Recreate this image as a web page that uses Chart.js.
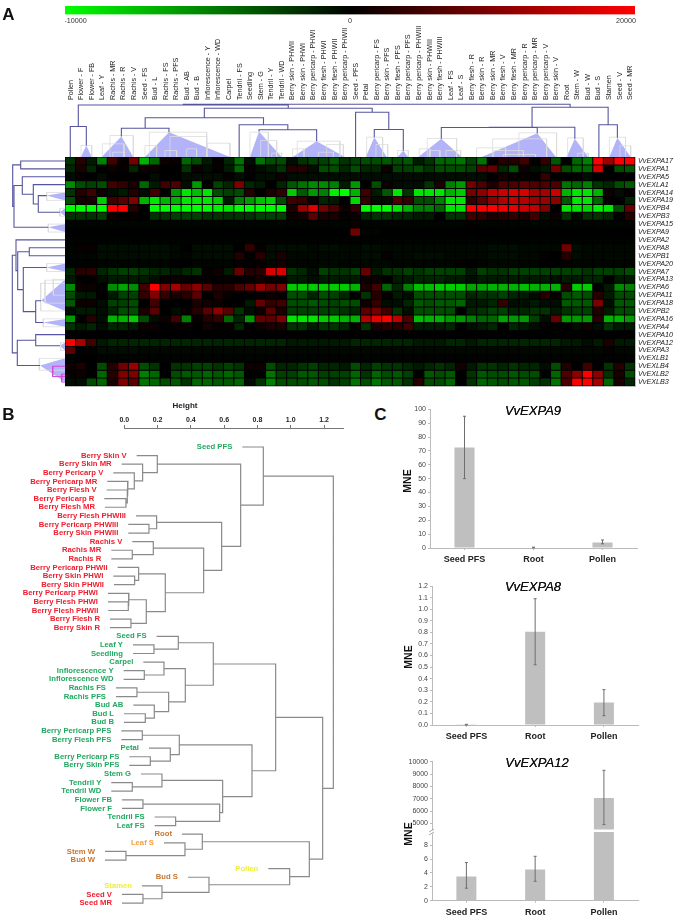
<!DOCTYPE html>
<html>
<head>
<meta charset="utf-8">
<title>VvEXPA expression</title>
<script src="https://cdn.jsdelivr.net/npm/chart.js@4"></script>
<style>
  html, body { margin: 0; padding: 0; background: #fff; }
  #page { position: relative; width: 679px; height: 916px; overflow: hidden; font-family: "Liberation Sans", Arial, sans-serif; }
  #page canvas { position: absolute; }
  .txt { position: absolute; white-space: nowrap; transform: translate(-50%, -50%); color: #111; }
  .letter { font-size: 17px; font-weight: bold; }
  .geneTitle { font-size: 13px; font-style: italic; text-shadow: 0 0 0.4px #111; }
  .mne { font-size: 10.5px; font-weight: bold; transform: translate(-50%, -50%) rotate(-90deg); }
  .height { font-size: 8px; font-weight: bold; color: #222; }
</style>
</head>
<body>
<div id="page"></div>
<script>
// ---- panel A data ----
const tissues = [
  "Pollen", "Flower - F", "Flower - FB", "Leaf - Y", "Rachis - MR", "Rachis - R", "Rachis - V", "Seed - FS", "Bud - L",
  "Rachis - FS", "Rachis - PFS", "Bud - AB", "Bud - B", "Inflorescence - Y", "Inflorescence - WD", "Carpel", "Tendril - FS",
  "Seedling", "Stem - G", "Tendril - Y", "Tendril - WD", "Berry skin - PHWII", "Berry skin - PHWI", "Berry pericarp - PHWI",
  "Berry flesh - PHWI", "Berry flesh - PHWII", "Berry pericarp - PHWII", "Seed - PFS", "Petal", "Berry pericarp - FS",
  "Berry skin - PFS", "Berry flesh - PFS", "Berry pericarp - PFS", "Berry pericarp - PHWIII", "Berry skin - PHWIII",
  "Berry flesh - PHWIII", "Leaf - FS", "Leaf - S", "Berry flesh - R", "Berry skin - R", "Berry skin - MR", "Berry flesh - V",
  "Berry flesh - MR", "Berry pericarp - R", "Berry pericarp - MR", "Berry pericarp - V", "Berry skin - V", "Root", "Stem - W",
  "Bud - W", "Bud - S", "Stamen", "Seed - V", "Seed - MR",
];

const genes = [
  "VvEXPA17", "VvEXPA1", "VvEXPA5", "VvEXLA1", "VvEXPA14", "VvEXPA19", "VvEXPB4", "VvEXPB3", "VvEXPA15", "VvEXPA9",
  "VvEXPA2", "VvEXPA8", "VvEXPB1", "VvEXPA20", "VvEXPA7", "VvEXPA13", "VvEXPA6", "VvEXPA11", "VvEXPA18", "VvEXPB2",
  "VvEXPA16", "VvEXPA4", "VvEXPA10", "VvEXPA12", "VvEXPA3", "VvEXLB1", "VvEXLB4", "VvEXLB2", "VvEXLB3",
];

// expression per gene per tissue, in thousands (-10 = full green, 20 = full red)
const heatValues = [
  [-2,3,-1,-5,5,.5,9,-7,-4,1,.5,-4,-3,-1,.5,-1.5,-4.5,-.5,-4.5,-3,-3,-.5,-2,-2.5,-2.5,-3.5,
   -2,-2.5,-3,-3,-3.5,-3,-3.5,-1,-2,-4,-4,-4.5,-2.5,-4.5,0,3,3,5,0,4,-3.5,0,-4,-5,20,12,20,20],
  [-1.5,2,-1.5,0,1,.5,-1.5,1,1,0,0,-2,1,-.5,.5,-1,-4,.5,-.5,-1,-2,3,3,-.5,-3,-3,
   -1.5,-3,-1.5,-1.5,1,-2.5,-2.5,-3,-2,-3,-3,-3,-2.5,7,8,-1.5,-3,1,-.5,-1,9,-3,-4,-4,17,0,-3,-3.5],
  [-.5,.5,0,-.5,0,0,0,0,-.5,0,0,-.5,-.5,-.5,-.5,.5,-.5,0,-.5,-.5,1,-.5,-.5,-.5,-.5,-.5,
   -.5,-.5,-.5,-.5,-.5,-.5,-.5,-.5,-.5,-.5,-.5,-.5,-.5,-.5,0,1.5,.5,.5,0,4,0,0,0,-.5,0,0,0,0],
  [-5.5,-3,-2.5,-3,5,4,2,-4,-1,5,6,-.5,-6,0,-2.5,-1.5,10,-1.5,-1,0,-1.5,-3.5,-4.5,-5.5,-5.5,-5,
   -1,-6,0,-3,1,-.5,-.5,-.5,-2,2,-5,-6,9,6,2,6,6,7,6,6,6,-4.5,-4,-5,-2,-1.5,-3,-3.5],
  [-2,3,5,1,-.5,-1,3,-.5,5,0,-6,-9,-7.5,-9,-3,-2.5,-3,3,0,2,4,-8,-3.5,-6,-5,-9.5,
   -10,-7,5,-1,-3.5,-9,-2,-9,-9,-9,-7,-8,9,11,15,16,17,17,13,13,16,-7,-9,-9,-7,1,-.5,.5],
  [-3,1.5,2,-8,5,7,10,-7,-9,-7,-7,-9,-9,-9,-8,-1,-5,-6,-7.5,-8,-3,5,4,1,-1.5,-1,
   0,-8.5,4,-.5,-.5,6,4,-3,-3,-5,-9,-9,4,7,11,14,15,14,12,12,11,-3.5,-9,-9,-4,0,0,-1.5],
  [-10,-10,-10,-10,20,20,3,0,-10,-10,-10,-10,-10,-10,-9.5,-9,-10,-10,-10,-10,-10,2,12,17,9,6,
   1,4,-10,-10,-10,-9,-7,-5,-5,-4,-9,-9,20,20,20,19,18,16,15,10,0,-9,-9,-8.5,-9.5,-9,-3,8],
  [-2,-2,-2,-2.5,1,.5,.5,0,-2,-2,-2.5,-2.5,-2.5,-2,-2,-2,-2,-2,-2.5,-2.5,-2.5,1,1.5,7,2,2,
   .5,1,-1.5,-2,-2,-1.5,-1.5,-1,-1,0,-2,-2,5,4,2,3,4,2,5,-.5,1,-2,-.5,-2,-2,-1.5,0,3],
  [-.2,-.2,-.2,-.2,-.2,-.2,-.2,-.2,-.2,-.2,-.2,-.2,-.2,-.2,-.2,-.2,-.2,-.2,-.2,-.2,-.2,-.2,-.2,-.2,-.2,-.2,
   -.2,1,-.2,-.2,-.2,-.2,-.2,-.2,-.2,-.2,-.2,-.2,.5,-.2,-.2,-.2,-.2,-.2,-.2,-.2,-.2,-.2,-.2,-.2,-.2,-.2,-.2,-.2],
  [0,0,0,0,0,0,0,0,0,0,0,0,0,0,0,0,0,0,0,0,0,0,0,0,0,0,
   0,9,-.2,-.2,0,0,0,0,0,0,0,0,0,0,0,0,0,0,0,0,0,0,0,0,0,0,0,0],
  [-.1,-.1,-.1,-.1,-.1,-.1,-.1,-.1,-.1,-.1,-.1,-.1,-.1,-.1,-.1,-.1,-.1,-.1,-.1,-.1,-.1,-.1,-.1,-.1,-.1,-.1,
   -.1,-.1,-.1,-.1,-.1,-.1,-.1,-.1,-.1,-.1,-.1,-.1,-.1,-.1,-.1,-.1,-.1,-.1,-.1,-.1,-.1,-.1,-.1,-.1,-.1,-.1,-.1,-.1],
  [-.2,.5,.5,-.5,-.5,-.5,-.5,-.5,-.5,-.5,-.3,0,-.5,-.5,-.5,-.5,0,4,.5,-.5,-.5,-.5,-.5,-.3,-.5,-.5,
   -.3,-.3,-.5,-.5,-.3,-.3,-.3,-.3,-.3,-.3,-.3,-.3,-.3,-.3,-.5,-.5,-.5,-.3,-.3,-.3,-.3,9,-.5,-.3,-.3,-.3,-.3,-.3],
  [-.2,-.2,-.2,-.5,-.5,-.5,-.5,-.5,-.5,-.5,-.3,-.2,-.5,-.5,-.5,-.5,2.5,0,3,-.5,2,-.3,-.3,-.3,-.3,-.3,
   -.3,-.3,-.5,-.5,.5,-.3,-.3,-.5,-.5,-.5,-.3,-.3,-.3,-.3,-.5,-.5,-.5,-.3,-.3,.5,0,3,-.5,-.3,-.3,-.3,-.3,-.3],
  [-.1,-.1,-.1,-.2,-.2,-.2,-.2,-.2,-.2,-.2,0,0,-.2,-.2,-.2,-.2,.5,.2,.5,-.3,1.5,-.2,-.2,-.2,-.3,-.3,
   -.2,-.2,-.3,-.3,-.3,-.2,-.2,-.2,-.2,-.2,-.2,.5,0,-.2,-.3,-.3,-.3,-.2,-.2,0,0,.5,-.2,-.2,-.2,-.2,-.2,-.2],
  [-1.5,3,3.5,-1.5,-2,-2.5,-2.5,-2,-1.5,-1.5,-1,-1.5,-2,.5,1,-1,8,3,3,17,17,-2,-1.5,-.5,-2.5,-2,
   -2,-2.5,8,-1,-2,-2,-2.5,-2,-2.5,-2.5,-2.5,-2.5,-1,-2.5,-2,-2,-2.5,-2.5,-2.5,-2.5,-2.5,-2.5,-2.5,-2,-2.5,-2.5,-2.5,-3],
  [-1,0,0,-.5,-1,-1,-1,-1,-.5,.5,1,.5,.5,.5,0,.5,0,.5,1.5,.5,.5,-1,-1,-.5,-1,-1,
   -1,-1,1,1,0,-1,-1,-1.5,-1.5,-1.5,-1,-1,-.5,-1,-1,-1,-1,-1,-1,-1,-.5,-1,-1,-1.5,-1.5,0,-1,-1],
  [-5.5,1,1,0,-5.5,-6.5,-5.5,5,20,10,13,8,11,7,3,3,6,8,12,9,10,-8,-8,-8,-8,-8,
   -8,-7,2,5,-4,-1.5,-5,-7.5,-7.5,-8,-8,-8,-6.5,-6.5,-7,-7,-7,-7.5,-7,-7,-7,3,-8,-8,0,-1,-5.5,-5],
  [-3,-1,-1,0,-1,-2.5,-2.5,4,10,4,2,3,7,0,2,.5,0,0,.5,1,.5,-3,-3,-1.5,-3,-2.5,
   -1.5,0,-2,3,.5,-1,-.5,-3,-3,-3,-3,-3,-1.5,-2,-2,-2.5,-1.5,-1,-.5,3,.5,-3,-3.5,-3,3,-1,-3,-3],
  [-3.5,1,1,-.5,-2.5,-2.5,-3,0,5,0,0,0,2,1.5,1,0,0,-1,8,4,5,-3,-3,-3.5,-3,-2.5,
   -3,-3,1,4,-.5,-.5,-1.5,-3.5,-3,-3.5,-3.5,-4,-1,-1,-1.5,4,-.5,-.5,-1,-.5,-.5,-3.5,-3.5,-3.5,10,-.5,-3.5,-3.5],
  [-.5,-1,-1,-.5,-1.5,-3,-3,2,7,0,-.5,.5,3,7,11,7,-2,-.5,1,7,2,-2.5,-2.5,-2.5,-2.5,-2.5,
   -2,-1.5,7,9,5,-2,-.5,-3,-3,-3,-3,0,-1.5,-2,-2.5,-2.5,-1.5,-1.5,-2,-2,-1,-2,-2.5,-2.5,2.5,-1,-3,-3],
  [-6,0,3,-.5,-7,-7,-8,-3,-.5,1,5,-5,.5,3,4,-4,-1.5,-6,8,7,10,-9,-9,-9,-8,-8,
   -7,-7,14,18,20,15,6,-7.5,-7,-7,-6,-6,-5,-4,-4,-6.5,-6,-6,-2.5,-.5,8,-6,-6,-6,3,-7,-7,-6],
  [-2,-1,-1.5,-.5,-1.5,-1.5,-1,1,1,0,.5,.5,0,1.5,.5,.5,-1.5,0,1,2,2,-2,-2,-1,-2,-2,
   -1.5,.5,-2,2,3,3,5,-1,-1,-1,-1.5,0,-.5,-1,-1.5,0,-1.5,-1,-.5,.5,0,0,-.5,1.5,-.5,-2,-1,-1],
  [0,0,0,0,0,0,0,0,0,0,0,0,0,0,0,0,0,0,0,0,0,0,0,0,0,0,
   0,0,0,0,0,0,0,0,0,0,0,0,0,0,0,0,0,0,0,0,0,0,0,0,0,0,0,0],
  [20,13,5,-1,-1.5,-1.5,-1.5,-1.5,-1.5,-1.5,-1.5,-1.5,-1.5,-1.5,-1.5,-1.5,-1.5,-1.5,-1.5,-1.5,-1.5,-1,-1,-1,-1,-1,
   -1,-1.5,-1.5,-1.5,-1.5,-1.5,-1.5,-1,-1,-1,-1.5,-1.5,-1,-1.5,-1.5,-1.5,-1.5,-1.5,-1.5,-1.5,-1.5,-1,-1,-.5,-1,2,-1,-1],
  [7,-.1,-.1,-.5,-.5,-.5,-.5,-.3,-.3,-.3,-.3,-.3,-.3,-.3,-.3,-.3,-.3,-.3,-.3,-.3,-.3,-.3,-.3,-.3,-.3,-.3,
   -.3,-.3,-.3,-.3,-.3,-.3,-.3,-.3,-.3,-.3,-.3,-.3,-.3,-.3,-.3,-.3,-.3,-.3,-.3,-.3,-.3,-.3,-.3,-.3,-.3,.5,-.3,-.3],
  [-.1,0,0,-.1,-.1,-.1,-.1,-.1,-.1,-.1,-.1,-.1,-.1,-.1,-.1,-.1,-.1,-.1,-.1,-.1,-.1,-.1,-.1,-.1,-.1,-.1,
   -.1,-.1,-.1,-.1,-.1,-.1,-.1,-.1,-.1,-.1,-.1,-.1,-.1,-.1,-.1,-.1,-.1,-.1,-.1,-.1,-.1,-.1,-.1,-.1,-.1,-.1,-.1,-.1],
  [1,2,0,-3,3,9,12,-3,-2,0,-2,-2,-2.5,-2.5,-2,-2.5,-2,1,1,-3,-1.5,-1.5,-2,-2.5,-1.5,-1.5,
   -1,-3,-1.5,-2.5,-2,-2,-1.5,-1,-1.5,-2,-1.5,1.5,-1,-2,-2,-1.5,-2,-1.5,-1.5,-.5,-3,2.5,0,5,0,-2,3,-2],
  [.5,1,0,-4,3,10,10,-5,-4,0,-3,-3.5,-3.5,-4,-3.5,-4,-3.5,0,0,-4.5,-2.5,-2.5,-3.5,-3.5,-2.5,-2.5,
   -2.5,-4,-2,-4,-3,-3.5,-2.5,0,-3.5,-3,-3.5,0,-2,-3.5,-3,-3,-3.5,-3,-3,0,-4,6,11,20,11,-2,2,-3],
  [-.5,-.5,-3,-4,2,10,7,-4.5,-4,-3,-3.5,-2,-4,-4,-3.5,-3.5,-4,-.5,-2,-5,-3,-3,-3,-3.5,-3,-2,
   -2.5,-4.5,-3,-4.5,-3.5,-3.5,-2,3,-3,-3,-4,0,-2,-4,-3.5,-3,-3.5,-3.5,-2.5,-2,-4.5,6,20,20,13,-4,2,-1.5],
];

// collapsed clusters of the tissue tree: [position, height, base from, base to]
const topClusters = [
  [0.5,0,0.5,0.5], [2.02,11.5,1.5,2.53], [5.34,20.5,3.47,6.47], [9.85,24.8,7.58,15.63], [16.5,0,16.5,16.5],
  [18.38,25.5,17.52,20.52], [23.84,15.8,21.57,26.52], [27.53,0,27.53,27.53], [29.3,19.8,28.5,30.47], [32.05,6.5,31.5,32.5],
  [35.65,18.2,33.47,37.58], [44.74,23.8,39.47,46.51], [48.3,18.2,47.52,49.57], [50.58,0,50.58,50.58], [52.33,19.2,51.57,53.59],
];
// merges as in hclust: negative = cluster number, positive = earlier merge number, then height
const topMerges = [
  [-1,-2,30.5], [-3,-4,28.8], [-6,-7,27.2], [-5,3,32.2], [2,4,39.2], [-9,-10,27.5], [-8,6,44.8], [5,7,48.8], [1,8,52],
  [-11,-12,29.5], [10,-13,29.8], [-14,-15,32.2], [11,12,49.8], [9,13,52.8],
];
// pale sub-branches inside the collapsed clusters: [from, to, height]
const topSubBranches = [
  [1.52,2.53,11.5], [4.26,6.47,21.5], [3.54,5.59,13.2], [4.52,5.59,4.8], [7.99,13.42,24.8], [7.58,8.68,11.5], [9.95,13.42,20.5],
  [9.47,10.58,6.5], [11.53,12.47,8.2], [13.48,15.63,13.8], [17.52,19.26,24.8], [18.53,20.05,16.5], [19.58,20.52,3.8],
  [21.57,22.64,8.2], [22,26.05,15.8], [24,25.42,4.8], [24.79,26.37,12.5], [28.58,30.09,19.8], [29.46,30.57,12.5], [31.51,32.52,6.5],
  [33.56,34.58,8.2], [34.32,37.1,18.5], [34.51,35.52,6.5], [36.09,37.48,6.5], [39,41.74,9.2], [40.51,45.63,18.2], [40.57,43.42,6.5],
  [41.52,44.58,2.5], [43,46.57,24.2], [47.62,49.1,19.2], [48.57,49.57,3.8], [51.57,53.1,19.8], [52.57,53.59,11.2],
];

// same layout for the gene tree, positions are row numbers
const leftClusters = [
  [0.5,0,0.5,0.5], [1.5,0,1.5,1.5], [2.5,0,2.5,2.5], [3.5,0,3.5,3.5], [4.89,18.3,4.5,5.5], [7,5,6.5,7.5], [8.9,16.7,8.5,9.5],
  [10.5,0,10.5,10.5], [11.5,0,11.5,11.5], [12.5,0,12.5,12.5], [14,18.3,13.5,14.5], [18.2,24,15.5,19.5], [20.96,21.7,20.5,21.5],
  [22.5,0,22.5,22.5], [23.9,5,23.5,24.5], [26.4,25,25.5,28.5],
];
const leftMerges = [
  [-1,-2,44.3], [-5,-6,26.7], [-4,2,31.7], [-3,3,42.7], [4,-7,51], [1,5,52.3],
  [-9,-10,35.7], [-12,-13,29.3], [-11,8,41.7], [7,9,47.3], [-8,10,49], [-14,-15,29.3], [12,-16,47.7], [11,13,52.7],
];
const leftSubBranches = [
  [4.5,5.5,18.3], [6.5,7.5,5], [8.5,9.5,16.7], [13.5,14.5,18.3], [16,19.5,24.3], [15.6,18.5,20], [15.5,17.5,11.7],
  [20.5,21.5,21.7], [23.5,24.5,4.3], [25.5,27,25.7],
];
const leftPinkBranches = [[26.5,27.8,12.3], [27.5,28.5,3.3]];

// ---- panel B data ----
const leafNames = [
  "Seed PFS", "Berry Skin V", "Berry Skin MR", "Berry Pericarp V", "Berry Pericarp MR", "Berry Flesh V", "Berry Pericarp R",
  "Berry Flesh MR", "Berry Flesh PHWIII", "Berry Pericarp PHWIII", "Berry Skin PHWIII", "Rachis V", "Rachis MR", "Rachis R",
  "Berry Pericarp PHWII", "Berry Skin PHWI", "Berry Skin PHWII", "Berry Pericarp PHWI", "Berry Flesh PHWI", "Berry Flesh PHWII",
  "Berry Flesh R", "Berry Skin R", "Seed FS", "Leaf Y", "Seedling", "Carpel", "Inflorescence Y", "Inflorescence WD", "Rachis FS",
  "Rachis PFS", "Bud AB", "Bud L", "Bud B", "Berry Pericarp PFS", "Berry Flesh PFS", "Petal", "Berry Pericarp FS", "Berry Skin PFS",
  "Stem G", "Tendril Y", "Tendril WD", "Flower FB", "Flower F", "Tendril FS", "Leaf FS", "Root", "Leaf S", "Stem W", "Bud W",
  "Pollen", "Bud S", "Stamen", "Seed V", "Seed MR",
];
const leafGroups = [
  "g","r","r","r","r","r","r","r","r","r","r","r","r","r","r","r","r","r","r","r","r","r",
  "g","g","g","g","g","g","g","g","g","g","g","g","g","g","g","g","g","g","g","g","g","g","g",
  "b","o","b","b","y","b","y","r","r",
];
const leafHeights = [
  .708,.074,-.016,-.066,-.102,-.106,-.12,-.116,.07,.024,.024,.048,-.078,-.078,-.04,-.066,-.062,-.098,-.098,-.096,-.086,-.086,
  .194,.052,.052,.114,-.004,-.004,-.05,-.05,.054,-.002,-.002,-.018,-.018,.148,.03,.03,.1,-.078,-.078,-.014,-.014,.182,.182,
  .346,.238,-.116,-.116,.864,.382,.106,-.014,-.014,
];
const leafMerges = [
  [-7,-8,.01], [-6,1,.018], [-5,2,.022], [-4,3,.06], [-3,4,.11], [-2,5,.198], [-10,-11,.148], [-9,7,.194], [-13,-14,.048],
  [-12,9,.174], [-16,-17,.062], [-15,11,.086], [-19,-20,.024], [-18,13,.028], [-21,-22,.04], [14,15,.132], [12,16,.246],
  [10,17,.476], [8,18,.584], [6,19,.698], [-1,20,.834], [-24,-25,.178], [-23,22,.324], [-27,-28,.12], [-26,24,.238],
  [-29,-30,.076], [-32,-33,.126], [-31,27,.18], [26,28,.266], [25,29,.366], [23,30,.534], [-34,-35,.108], [-37,-38,.156],
  [-36,33,.276], [32,34,.33], [-40,-41,.048], [-39,36,.226], [-42,-43,.112], [-44,-45,.308], [38,39,.572], [37,40,.59],
  [35,41,.766], [31,42,.908], [-48,-49,.01], [-47,44,.364], [-46,45,.468], [-53,-54,.112], [-52,47,.226], [-51,48,.508],
  [-50,49,.992], [46,50,1.11], [43,51,1.19], [21,52,1.254],
];

// ---- panel C data ----
const sampleNames = ["Seed PFS", "Root", "Pollen"];
const expa9Values = [72.5, 0.3, 4];
const expa9Low = [50, 0.1, 3];
const expa9High = [95, 0.6, 5.8];
const expa8Values = [0.003, 0.805, 0.195];
const expa8Low = [0, 0.52, 0.08];
const expa8High = [0.006, 1.09, 0.305];
const expa12Values = [3.5, 4.5, 7050];
const expa12Low = [1.8, 2.8, 4900];
const expa12High = [5.5, 6.4, 9300];
const expa12HighTicks = [5000, 6000, 7000, 8000, 9000, 10000];
const expa12LowTicks = [0, 2, 4, 6, 8];

// ---- shared setup ----
Chart.defaults.font.family = '"Liberation Sans", Arial, sans-serif';
Chart.defaults.animation = false;
Chart.defaults.responsive = false;
Chart.defaults.plugins.legend.display = false;
Chart.defaults.plugins.tooltip.enabled = false;

const page = document.getElementById("page");

function makeCanvas(left, top, width, height) {
  const canvas = document.createElement("canvas");
  canvas.width = width;
  canvas.height = height;
  canvas.style.left = left + "px";
  canvas.style.top = top + "px";
  page.appendChild(canvas);
  return canvas;
}

function addText(text, x, y, className) {
  const el = document.createElement("div");
  el.className = "txt " + className;
  el.textContent = text;
  el.style.left = x + "px";
  el.style.top = y + "px";
  page.appendChild(el);
}

function heatColor(value) {
  if (value < 0) return `rgb(0,${Math.min(255, Math.round((-value / 10) * 255))},0)`;
  return `rgb(${Math.min(255, Math.round((value / 20) * 255))},0,0)`;
}

// walks clusters and hclust style merges, returns polylines as {pos, h}, null between branches
function treeLines(clusters, merges) {
  const nodes = [];
  const lines = [];
  const getNode = (ref) => (ref < 0 ? { pos: clusters[-ref - 1][0], h: clusters[-ref - 1][1] } : nodes[ref - 1]);
  merges.forEach(([a, b, h]) => {
    const nodeA = getNode(a);
    const nodeB = getNode(b);
    lines.push(nodeA, { pos: nodeA.pos, h }, { pos: nodeB.pos, h }, nodeB, null);
    nodes.push({ pos: (nodeA.pos + nodeB.pos) / 2, h });
  });
  return lines;
}

function branchLines(branches) {
  const lines = [];
  branches.forEach(([from, to, h]) => {
    lines.push({ pos: from, h: 0 }, { pos: from, h }, { pos: to, h }, { pos: to, h: 0 }, null);
  });
  return lines;
}

function lineSet(points, toXY, color, width) {
  return {
    data: points.map((p) => (p ? toXY(p) : { x: NaN, y: NaN })),
    showLine: true,
    borderColor: color,
    borderWidth: width,
    pointRadius: 0,
    spanGaps: false,
    tension: 0,
  };
}

function triangleSets(clusters, toXY) {
  return clusters
    .filter((c) => c[1] > 0)
    .map((c) => ({
      data: [toXY({ pos: c[0], h: c[1] }), toXY({ pos: c[2], h: 0 }), toXY({ pos: c[3], h: 0 }), toXY({ pos: c[0], h: c[1] })],
      showLine: true,
      borderWidth: 0,
      pointRadius: 0,
      tension: 0,
      fill: "shape",
      backgroundColor: "#b3b3fa",
      order: 5,
    }));
}

const hiddenAxis = (min, max, reverse) => ({ type: "linear", display: false, min, max, reverse: !!reverse });

// ---- colour bar ----
const colorbarLabels = ["-10000", "0", "20000"];

new Chart(makeCanvas(65, 2, 580, 24), {
  type: "bar",
  data: {
    labels: ["scale"],
    datasets: [
      {
        data: [[-1, 1]],
        barPercentage: 1,
        categoryPercentage: 1,
        backgroundColor: (ctx) => {
          const area = ctx.chart.chartArea;
          if (!area) return "#000";
          const gradient = ctx.chart.ctx.createLinearGradient(area.left, 0, area.right, 0);
          gradient.addColorStop(0, "#00ff00");
          gradient.addColorStop(0.5, "#000000");
          gradient.addColorStop(1, "#ff0000");
          return gradient;
        },
      },
    ],
  },
  options: {
    indexAxis: "y",
    layout: { padding: { top: 4, right: 10 } },
    scales: {
      y: { display: false },
      x: {
        min: -1,
        max: 1,
        border: { display: false },
        grid: { display: false, drawTicks: false },
        afterBuildTicks: (axis) => {
          axis.ticks = [{ value: -0.963 }, { value: 0 }, { value: 0.968 }];
        },
        afterFit: (axis) => {
          axis.height = 11.5;
          axis.paddingLeft = 0;
          axis.paddingRight = 0;
        },
        ticks: {
          autoSkip: false,
          maxRotation: 0,
          padding: 2,
          font: { size: 7.2 },
          color: "#333",
          callback: (value, index) => colorbarLabels[index],
        },
      },
    },
  },
});

// ---- heat map ----
// black backing so the seams between cells stay dark, grey rule along the bottom
const heatBackPlugin = {
  id: "heatBack",
  beforeDatasetsDraw(chart) {
    const { ctx, chartArea } = chart;
    ctx.save();
    ctx.fillStyle = "#000";
    ctx.fillRect(chartArea.left, chartArea.top, chartArea.width, chartArea.height);
    ctx.fillStyle = "#bbb";
    ctx.fillRect(chartArea.left, chartArea.bottom, chartArea.width, 1);
    ctx.restore();
  },
};

new Chart(makeCanvas(65, 20, 614, 368), {
  type: "bar",
  data: {
    labels: tissues,
    datasets: genes.map((gene, row) => ({
      label: gene,
      data: tissues.map(() => 1),
      stack: "rows",
      barPercentage: 1,
      categoryPercentage: 1,
      borderWidth: 0.5,
      borderSkipped: false,
      inflateAmount: 0,
      borderColor: "#000",
      backgroundColor: (ctx) => heatColor(heatValues[row][ctx.dataIndex]),
    })),
  },
  options: {
    layout: { padding: { bottom: 2 } },
    scales: {
      x: {
        position: "top",
        stacked: true,
        border: { display: false },
        grid: { display: false, drawTicks: false },
        afterFit: (axis) => {
          axis.height = 137;
          axis.paddingLeft = 0;
          axis.paddingRight = 0;
        },
        ticks: { autoSkip: false, minRotation: 90, maxRotation: 90, padding: 57, labelOffset: 9, font: { size: 7.2 }, color: "#222" },
      },
      y: { stacked: true, display: false, min: 0, max: 29, reverse: true },
      yGenes: {
        type: "category",
        axis: "y",
        position: "right",
        labels: genes,
        offset: true,
        border: { color: "#bbb" },
        grid: { display: false, drawTicks: false },
        afterFit: (axis) => {
          axis.width = 44;
          axis.paddingTop = 0;
          axis.paddingBottom = 0;
        },
        ticks: { autoSkip: false, padding: 3, font: { size: 7.2, style: "italic" }, color: "#222" },
      },
    },
  },
  plugins: [heatBackPlugin],
});

// ---- tissue tree above the heat map ----
const topXY = (p) => ({ x: p.pos, y: p.h });

new Chart(makeCanvas(65, 100, 570, 57), {
  type: "scatter",
  data: {
    datasets: [
      { ...lineSet(treeLines(topClusters, topMerges), topXY, "#55559f", 1.1), order: 1 },
      { ...lineSet(branchLines(topSubBranches), topXY, "#dcdcdc", 0.8), order: 2 },
      ...triangleSets(topClusters, topXY),
    ],
  },
  options: { scales: { x: hiddenAxis(0, 54), y: hiddenAxis(0, 57) } },
});

// ---- gene tree left of the heat map ----
const leftXY = (p) => ({ x: p.h, y: p.pos });

new Chart(makeCanvas(5, 157, 60, 229), {
  type: "scatter",
  data: {
    datasets: [
      { ...lineSet(treeLines(leftClusters, leftMerges), leftXY, "#55559f", 1.1), order: 1 },
      { ...lineSet(branchLines(leftPinkBranches), leftXY, "#d848d8", 1), order: 1.5 },
      { ...lineSet(branchLines(leftSubBranches), leftXY, "#dcdcdc", 0.8), order: 2 },
      ...triangleSets(leftClusters, leftXY),
    ],
  },
  options: { scales: { x: hiddenAxis(0, 60, true), y: hiddenAxis(0, 29, true) } },
});

// ---- panel B height axis ----
new Chart(makeCanvas(100, 408, 260, 24), {
  type: "scatter",
  data: { datasets: [{ data: [] }] },
  options: {
    layout: { padding: { left: 24.3, right: 17 } },
    scales: {
      y: { display: false },
      x: {
        position: "top",
        min: 0,
        max: 1.314,
        border: { color: "#777" },
        grid: { drawOnChartArea: false, tickLength: 3, color: "#777" },
        ticks: {
          stepSize: 0.2,
          includeBounds: false,
          maxRotation: 0,
          padding: 1,
          font: { size: 7, weight: "bold" },
          color: "#222",
          callback: (value) => value.toFixed(1),
        },
        afterFit: (axis) => {
          axis.height = 20;
          axis.paddingLeft = 0;
          axis.paddingRight = 0;
        },
      },
    },
  },
});

// ---- panel B dendrogram ----
const leafColors = { r: "#ee2030", g: "#22a860", b: "#c8762e", o: "#f5a040", y: "#eeee40" };

const leafLabelPlugin = {
  id: "leafLabels",
  afterDatasetsDraw(chart) {
    const { ctx, scales } = chart;
    ctx.save();
    ctx.font = 'bold 7.7px "Liberation Sans", Arial, sans-serif';
    ctx.textAlign = "right";
    ctx.textBaseline = "middle";
    leafNames.forEach((name, i) => {
      ctx.fillStyle = leafColors[leafGroups[i]];
      ctx.fillText(name, scales.x.getPixelForValue(leafHeights[i]) - 10, scales.y.getPixelForValue(i));
    });
    ctx.restore();
  },
};

const leafClusters = leafHeights.map((h, i) => [i, h, i, i]);

new Chart(makeCanvas(0, 437, 345, 475), {
  type: "scatter",
  data: { datasets: [lineSet(treeLines(leafClusters, leafMerges), (p) => ({ x: p.h, y: p.pos }), "#8a8a8a", 1.2)] },
  options: { scales: { x: hiddenAxis(-0.7456, 1.324), y: hiddenAxis(-1.162, 54.04, true) } },
  plugins: [leafLabelPlugin],
});

// ---- panel C bars ----
const errorBarPlugin = {
  id: "errorBars",
  afterDatasetsDraw(chart) {
    const { ctx } = chart;
    chart.data.datasets.forEach((set, d) => {
      const meta = chart.getDatasetMeta(d);
      const yScale = meta.yScale;
      meta.data.forEach((bar, i) => {
        const low = set.errLow[i];
        const high = set.errHigh[i];
        if (low < yScale.min || high > yScale.max) return;
        const yLow = yScale.getPixelForValue(low);
        const yHigh = yScale.getPixelForValue(high);
        ctx.save();
        ctx.strokeStyle = "#6e6e6e";
        ctx.lineWidth = 1;
        ctx.beginPath();
        ctx.moveTo(bar.x, yLow);
        ctx.lineTo(bar.x, yHigh);
        ctx.moveTo(bar.x - 1.5, yLow);
        ctx.lineTo(bar.x + 1.5, yLow);
        ctx.moveTo(bar.x - 1.5, yHigh);
        ctx.lineTo(bar.x + 1.5, yHigh);
        ctx.stroke();
        ctx.restore();
      });
    });
  },
};

// white notch and two slashes where the EXPA12 axis is broken
const axisBreakPlugin = {
  id: "axisBreak",
  afterDraw(chart) {
    const { ctx, scales } = chart;
    const x = scales.yLow.right;
    const y = scales.yLow.top;
    ctx.save();
    ctx.fillStyle = "#fff";
    ctx.fillRect(x - 3, y - 1.5, 6, 3);
    ctx.strokeStyle = "#aaa";
    ctx.lineWidth = 1;
    ctx.beginPath();
    ctx.moveTo(x - 3, y);
    ctx.lineTo(x + 2, y - 3);
    ctx.moveTo(x - 3, y + 3);
    ctx.lineTo(x + 2, y);
    ctx.stroke();
    ctx.restore();
  },
};

const barStyle = { barPercentage: 0.291, categoryPercentage: 1, backgroundColor: "#bfbfbf" };
const xBarAxis = {
  border: { color: "#bbb" },
  grid: { drawOnChartArea: false, offset: false, tickLength: 2, color: "#bbb" },
  ticks: { maxRotation: 0, padding: 4, font: { size: 9, weight: "bold" }, color: "#222" },
  afterFit: (axis) => {
    axis.height = 18;
    axis.paddingLeft = 0;
    axis.paddingRight = 0;
  },
};
const yBarAxis = (extra, ticks) => ({
  ...extra,
  border: { color: "#bbb" },
  grid: { drawOnChartArea: false, tickLength: 2, color: "#bbb" },
  ticks: { includeBounds: false, autoSkip: false, padding: 2, font: { size: 7 }, color: "#444", ...ticks },
  afterFit: (axis) => {
    axis.width = 35;
    axis.paddingTop = 0;
    axis.paddingBottom = 0;
  },
});

new Chart(makeCanvas(395, 402, 250, 164), {
  type: "bar",
  data: {
    labels: sampleNames,
    datasets: [{ ...barStyle, data: expa9Values, errLow: expa9Low, errHigh: expa9High }],
  },
  options: {
    layout: { padding: { top: 7.3, right: 8 } },
    scales: { x: xBarAxis, y: yBarAxis({ min: 0, max: 100 }, { stepSize: 10 }) },
  },
  plugins: [errorBarPlugin],
});

new Chart(makeCanvas(396.7, 579, 250, 164), {
  type: "bar",
  data: {
    labels: sampleNames,
    datasets: [{ ...barStyle, data: expa8Values, errLow: expa8Low, errHigh: expa8High }],
  },
  options: {
    layout: { padding: { top: 7, right: 8.7 } },
    scales: {
      x: xBarAxis,
      y: yBarAxis({ min: 0, max: 1.2 }, { stepSize: 0.1, callback: (value) => value.toFixed(1) }),
    },
  },
  plugins: [errorBarPlugin],
});

// broken axis: upper and lower scale stacked in one chart, the first scale is the bottom one
const fixedTicks = (values) => (axis) => {
  axis.ticks = values.map((value) => ({ value }));
};

new Chart(makeCanvas(396.7, 755, 250, 161), {
  type: "bar",
  data: {
    labels: sampleNames,
    datasets: [
      {
        ...barStyle,
        grouped: false,
        yAxisID: "yHigh",
        base: 4500,
        data: expa12Values,
        errLow: expa12Low,
        errHigh: expa12High,
        backgroundColor: (ctx) => (ctx.raw < 4500 ? "transparent" : "#bfbfbf"),
      },
      { ...barStyle, grouped: false, yAxisID: "yLow", data: expa12Values, errLow: expa12Low, errHigh: expa12High },
    ],
  },
  options: {
    layout: { padding: { top: 6.7, right: 8.7 } },
    scales: {
      x: { ...xBarAxis, afterFit: (axis) => { axis.height = 15.3; axis.paddingLeft = 0; axis.paddingRight = 0; } },
      yLow: {
        ...yBarAxis({ stack: "mne", stackWeight: 68.7, min: 0, max: 9.9 }, { callback: (value) => String(value) }),
        afterBuildTicks: fixedTicks(expa12LowTicks),
      },
      yHigh: {
        ...yBarAxis({ stack: "mne", stackWeight: 70.3, min: 4300, max: 10000 }, { callback: (value) => String(value) }),
        afterBuildTicks: fixedTicks(expa12HighTicks),
      },
    },
  },
  plugins: [errorBarPlugin, axisBreakPlugin],
});

// ---- loose text ----
addText("A", 8.5, 15, "letter");
addText("B", 8.5, 415, "letter");
addText("C", 380.5, 415, "letter");
addText("Height", 185, 405, "height");
addText("VvEXPA9", 533, 409.5, "geneTitle");
addText("VvEXPA8", 533, 586, "geneTitle");
addText("VvEXPA12", 537, 762, "geneTitle");
addText("MNE", 407, 481, "mne");
addText("MNE", 408, 657, "mne");
addText("MNE", 408, 834, "mne");
</script>
</body>
</html>
